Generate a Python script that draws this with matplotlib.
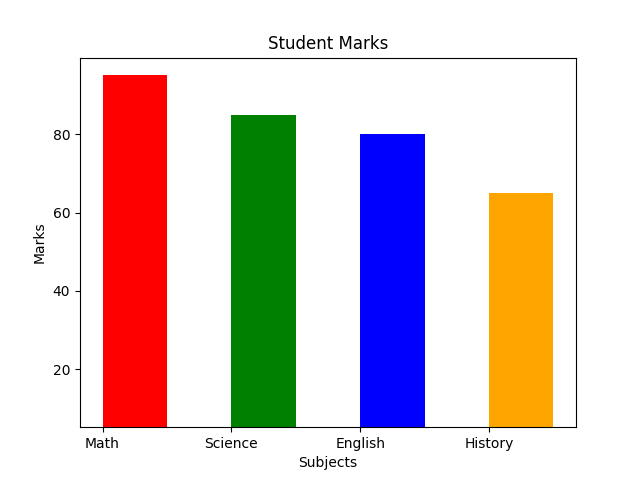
import matplotlib
matplotlib.use("Agg")
import matplotlib.pyplot as plt

subjects = ["Math", "Science", "English", "History"]
marks = [95, 85, 80, 65]
colors = ["red", "green", "blue", "orange"]

fig = plt.figure(figsize=(6.4, 4.8), dpi=100)
plt.bar(subjects, marks, color=colors, width=0.5, align="edge")
plt.ylim(5.2, 99.55)
plt.title("Student Marks")
plt.xlabel("Subjects")
plt.ylabel("Marks")
plt.savefig("out.png")
